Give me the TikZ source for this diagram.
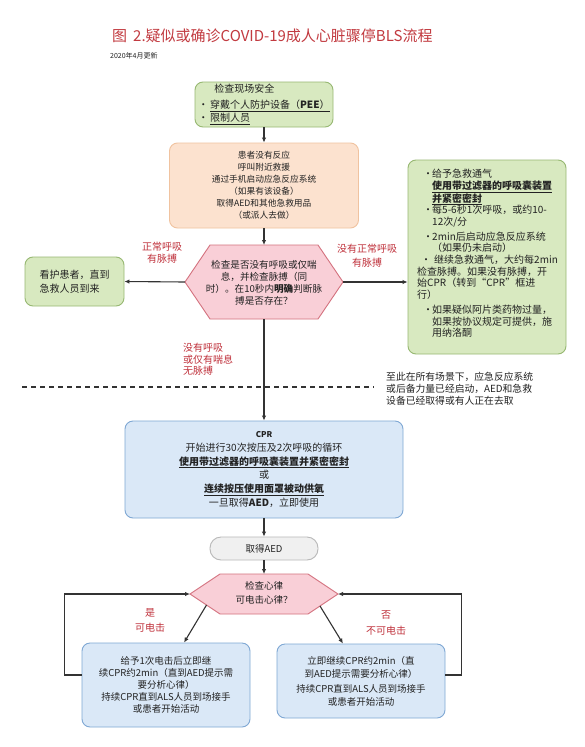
\documentclass[tikz,border=0pt]{standalone}
\usepackage{fontspec}
\setmainfont{Noto Sans CJK SC}
\usetikzlibrary{arrows.meta,calc}
\definecolor{titred}{HTML}{C23A40}
\definecolor{labred}{HTML}{C0323C}
\definecolor{txt}{HTML}{222222}
\definecolor{gfill}{HTML}{D8E9C0}
\definecolor{gdraw}{HTML}{97B872}
\definecolor{ofill}{HTML}{FCE2CF}
\definecolor{odraw}{HTML}{F0C3A0}
\definecolor{pfill}{HTML}{F9CFD7}
\definecolor{pdraw}{HTML}{D4727F}
\definecolor{bfill}{HTML}{DAE8F7}
\definecolor{bdraw}{HTML}{7FA8D4}
\definecolor{afill}{HTML}{F0F0F0}
\definecolor{adraw}{HTML}{B8B8B8}
\definecolor{arrc}{HTML}{333333}
\newcommand\rgbul{\makebox[15pt][l]{\hspace*{6pt}•}}
\newcommand\rgind{\hspace*{15pt}}
\begin{document}
\begin{tikzpicture}[x=1pt,y=-1pt,
  box/.style={rounded corners=8pt, line width=0.9pt, inner sep=0pt, text=txt},
  gbox/.style={box, fill=gfill, draw=gdraw},
  obox/.style={box, fill=ofill, draw=odraw},
  bbox/.style={box, fill=bfill, draw=bdraw},
  abox/.style={box, fill=afill, draw=adraw},
  hexs/.style={fill=pfill, draw=pdraw, line width=0.9pt},
  arr/.style={draw=arrc, line width=1.1pt, -{Latex[length=5pt,width=4.5pt]}},
  dline/.style={draw=arrc, line width=1.1pt, dash pattern=on 5pt off 4pt},
  lab/.style={text=labred, align=center, inner sep=0pt},
  plain/.style={text=txt, inner sep=0pt},
]
\useasboundingbox (0,0) rectangle (584,747);
\fill[white] (0,0) rectangle (584,747);

% title
\node[plain, anchor=west, text=titred, font=\fontsize{15}{18}\selectfont] (title) at (112,36) {图\hspace{6pt}2.疑似或确诊COVID-19成人心脏骤停BLS流程};
\node[plain, anchor=west, font=\fontsize{7}{8}\selectfont] (sub) at (110,56) {2020年4月更新};

% top boxes
\node[gbox, minimum width=138pt, minimum height=45pt, align=left, font=\fontsize{10}{13}\selectfont] (b1) at (264,104.5)
  {\hspace*{16pt}检查现场安全\\[3pt]•\,\underline{穿戴个人防护设备（\textbf{PEE}）}\\•\,\underline{限制人员}};
\node[obox, minimum width=189pt, minimum height=85pt, align=center, font=\fontsize{8.7}{12}\selectfont] (b2) at (264,185.5)
  {患者没有反应\\呼叫附近救援\\通过手机启动应急反应系统\\（如果有该设备）\\取得AED和其他急救用品\\（或派人去做）};

% hexagon 1
\coordinate (h1L) at (185,282);
\coordinate (h1TL) at (210,245);
\coordinate (h1TR) at (318,245);
\coordinate (h1R) at (343,282);
\coordinate (h1BR) at (318,319);
\coordinate (h1BL) at (210,319);
\coordinate (h1T) at (264,245);
\coordinate (h1B) at (264,319);
\draw[hexs] (h1L) -- (h1TL) -- (h1TR) -- (h1R) -- (h1BR) -- (h1BL) -- cycle;
\node[plain, align=center, font=\fontsize{9.6}{12}\selectfont] (h1) at (264,283)
  {检查是否没有呼吸或仅喘\\息，并检查脉搏（同\\时）。在10秒内\textbf{明确}判断脉\\搏是否存在？};

% side boxes
\node[gbox, minimum width=99pt, minimum height=49pt, align=left, font=\fontsize{10}{14}\selectfont] (lg) at (74.5,281.5)
  {看护患者，直到\\急救人员到来};
\node[gbox, minimum width=158pt, minimum height=194pt] (rg) at (487,257) {};
\node[plain, anchor=north west, align=left, font=\fontsize{10}{11.6}\selectfont] (rgt) at (417,169) {%
\rgbul 给予急救通气\\
\rgind\underline{\textbf{使用带过滤器的呼吸囊装置}}\\
\rgind\underline{\textbf{并紧密密封}}\\
\rgbul 每5-6秒1次呼吸，或约10-\\
\rgind 12次/分\\[3.5pt]
\rgbul 2min后启动应急反应系统\\
\rgind （如果仍未启动）\\
\hspace*{4pt}•\hspace*{3pt}继续急救通气，大约每2min\\
检查脉搏。如果没有脉搏，开\\
始CPR（转到“CPR”框进\\
行）\\[3.5pt]
\rgbul 如果疑似阿片类药物过量，\\
\rgind 如果按协议规定可提供，施\\
\rgind 用纳洛酮};

% labels
\node[lab, font=\fontsize{10}{12}\selectfont] (l1) at (162,253) {正常呼吸\\有脉搏};
\node[lab, font=\fontsize{10}{14}\selectfont] (l2) at (367,256) {没有正常呼吸\\有脉搏};
\node[lab, align=left, anchor=north west, font=\fontsize{10}{11.5}\selectfont] (l3) at (183,343) {没有呼吸\\或仅有喘息\\无脉搏};

% dashed line and note
\coordinate (d1) at (22,387);
\coordinate (d2) at (374,387);
\draw[dline] (d1) -- (d2);
\node[plain, anchor=north west, align=left, font=\fontsize{9.8}{12}\selectfont] (note) at (386,372)
  {至此在所有场景下，应急反应系统\\或后备力量已经启动，AED和急救\\设备已经取得或有人正在去取};

% CPR
\node[bbox, minimum width=278pt, minimum height=97pt, align=center, font=\fontsize{10}{13.8}\selectfont] (cpr) at (264,469.5)
  {{\fontsize{8}{13.8}\selectfont\textbf{CPR}}\\开始进行30次按压及2次呼吸的循环\\\underline{\textbf{使用带过滤器的呼吸囊装置并紧密密封}}\\或\\\underline{\textbf{连续按压使用面罩被动供氧}}\\一旦取得\textbf{AED}，立即使用};

\node[abox, rounded corners=11pt, minimum width=108pt, minimum height=23pt, font=\fontsize{9.5}{12}\selectfont] (aed) at (264,548.5) {取得AED};

% hexagon 2
\coordinate (h2L) at (190,594);
\coordinate (h2TL) at (220,574);
\coordinate (h2TR) at (308,574);
\coordinate (h2R) at (338,594);
\coordinate (h2BR) at (308,614);
\coordinate (h2BL) at (220,614);
\coordinate (h2T) at (264,574);
\draw[hexs] (h2L) -- (h2TL) -- (h2TR) -- (h2R) -- (h2BR) -- (h2BL) -- cycle;
\node[plain, align=center, font=\fontsize{9.5}{14}\selectfont] (h2) at (264,593) {检查心律\\可电击心律？};

% bottom boxes
\node[bbox, minimum width=168pt, minimum height=84pt, align=center, font=\fontsize{9.5}{12}\selectfont] (lb) at (166,685)
  {给予1次电击后立即继\\续CPR约2min（直到AED提示需\\要分析心律）\\持续CPR直到ALS人员到场接手\\或患者开始活动};
\node[bbox, minimum width=168pt, minimum height=74pt, align=center, font=\fontsize{9.5}{13}\selectfont] (rb) at (361,681)
  {立即继续CPR约2min（直\\到AED提示需要分析心律）\\[2pt]持续CPR直到ALS人员到场接手\\或患者开始活动};

\node[lab, font=\fontsize{10}{15}\selectfont] (l4) at (150,620.5) {是\\可电击};
\node[lab, font=\fontsize{10}{16}\selectfont] (l5) at (386,623) {否\\不可电击};

% connectors
\draw[arr] (b1.south) -- (b2.north);
\draw[arr] (b2.south) -- (h1T);
\draw[arr] (h1L) -- (lg.east);
\draw[arr] (h1R) -- (h1R -| rg.west);
\draw[arr] (h1B) -- (cpr.north);
\draw[arr] (cpr.south) -- (aed.north);
\draw[arr] (aed.south) -- (h2T);
\draw[arr] ($(h2L)!0.55!(h2BL)$) -- ($(lb.north west)!0.607!(lb.north east)$);
\draw[arr] ($(h2R)!0.6!(h2BR)$) -- ($(rb.north west)!0.393!(rb.north east)$);
\draw[arr] ([yshift=10pt]lb.west) -- ++(-17,0) |- (h2L);
\draw[arr] ([yshift=6pt]rb.east) -- ++(16,0) |- (h2R);
\end{tikzpicture}
\end{document}
